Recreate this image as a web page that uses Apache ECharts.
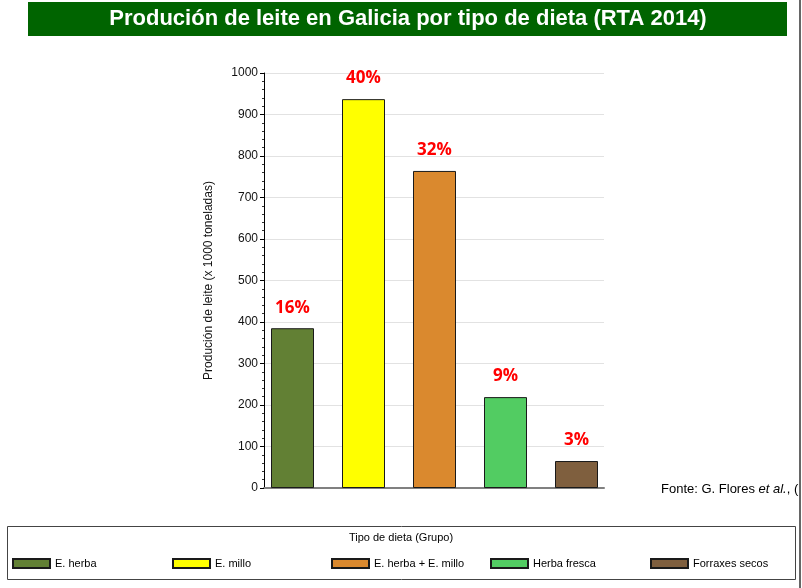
<!DOCTYPE html>
<html>
<head>
<meta charset="utf-8">
<script src="https://cdn.jsdelivr.net/npm/echarts@6/dist/echarts.min.js"></script>
<style>html,body{margin:0;padding:0;background:#fff}#c{width:802px;height:588px}</style>
</head>
<body>
<div id="c"></div>
<script>
const categories = ['E. herba', 'E. millo', 'E. herba + E. millo', 'Herba fresca', 'Forraxes secos'];
const values = [385, 937, 764, 219, 65];
const percentLabels = ['16%', '40%', '32%', '9%', '3%'];
const colors = ['#628034', '#FFFF00', '#DA892E', '#52CC62', '#7F5F3E'];
const yTicks = [0, 100, 200, 300, 400, 500, 600, 700, 800, 900, 1000];

const chart = echarts.init(document.getElementById('c'), null, {renderer: 'canvas'});
const FONT = '"Liberation Sans", Arial, sans-serif';

const series = categories.map((name, i) => ({
  name: name,
  type: 'bar',
  xAxisIndex: 1,
  yAxisIndex: 1,
  barWidth: 43,
  barGap: '-100%',
  itemStyle: {color: colors[i], borderColor: '#1a1a1a', borderWidth: 1},
  label: {
    show: true, position: 'top', distance: 12,
    formatter: () => percentLabels[i],
    color: '#FF0000', fontWeight: 'bold', fontSize: 17, fontFamily: '"Open Sans", "Noto Sans", sans-serif'
  },
  data: categories.map((c, j) => (j === i ? values[i] : null))
}));

const legendLefts = [12, 172, 331, 490, 650];
const legends = categories.map((name, i) => ({
  data: [name],
  left: legendLefts[i], top: 558, padding: 0,
  itemWidth: 37, itemHeight: 9, itemGap: 6,
  icon: 'rect',
  textStyle: {fontFamily: FONT, fontSize: 11, color: '#000'},
  selectedMode: false
}));

chart.setOption({
  animation: false,
  backgroundColor: '#fff',
  grid: [
    {left: 264, width: 340, top: 73, bottom: 100, containLabel: false},
    {left: 257, width: 355, top: 73, bottom: 100, containLabel: false}
  ],
  xAxis: [
    {gridIndex: 0, type: 'category', data: categories, axisLabel: {show: false}, axisTick: {show: false},
     axisLine: {show: true, lineStyle: {color: '#808080', width: 2}}},
    {gridIndex: 1, type: 'category', data: categories, show: false}
  ],
  yAxis: [
    {gridIndex: 0, type: 'value', min: yTicks[0], max: yTicks[yTicks.length - 1], interval: 100,
     name: 'Produción de leite (x 1000 toneladas)', nameLocation: 'middle', nameGap: 49,
     nameTextStyle: {fontFamily: FONT, fontSize: 12, color: '#111'},
     axisLine: {show: true, lineStyle: {color: '#000', width: 1}},
     axisTick: {show: true, length: 4, lineStyle: {color: '#000'}},
     minorTick: {show: true, splitNumber: 5, length: 2, lineStyle: {color: '#333'}},
     axisLabel: {fontFamily: FONT, fontSize: 12, color: '#111', margin: 6, formatter: v => String(v)},
     splitLine: {show: true, lineStyle: {color: '#e2e2e2', width: 1}}},
    {gridIndex: 1, type: 'value', min: yTicks[0], max: yTicks[yTicks.length - 1], show: false, splitLine: {show: false}}
  ],
  legend: legends,
  graphic: [
    {type: 'rect', shape: {x: 28, y: 2, width: 759, height: 34}, style: {fill: '#006400'}, z: 0},
    {type: 'text', x: 408, y: 19, style: {text: 'Produción de leite en Galicia por tipo de dieta (RTA 2014)', fill: '#fff',
      font: 'bold 22px ' + FONT, textAlign: 'center', textVerticalAlign: 'middle'}},
    {type: 'rect', shape: {x: 7.5, y: 526.5, width: 788, height: 53}, style: {fill: 'none', stroke: '#444', lineWidth: 1}},
    {type: 'text', x: 401, y: 538, style: {text: 'Tipo de dieta (Grupo)', fill: '#000', font: '11px ' + FONT,
      textAlign: 'center', textVerticalAlign: 'middle'}},
    {type: 'text', x: 661, y: 489, style: {
      text: 'Fonte: G. Flores {i|et al.}, (', fill: '#000', font: '13px ' + FONT, textVerticalAlign: 'middle',
      rich: {i: {fontStyle: 'italic', fontSize: 13, fontFamily: FONT, fill: '#000'}}}},
    {type: 'rect', shape: {x: 799, y: 0, width: 2, height: 588}, style: {fill: '#666'}}
  ],
  series: series
});
</script>
</body>
</html>
